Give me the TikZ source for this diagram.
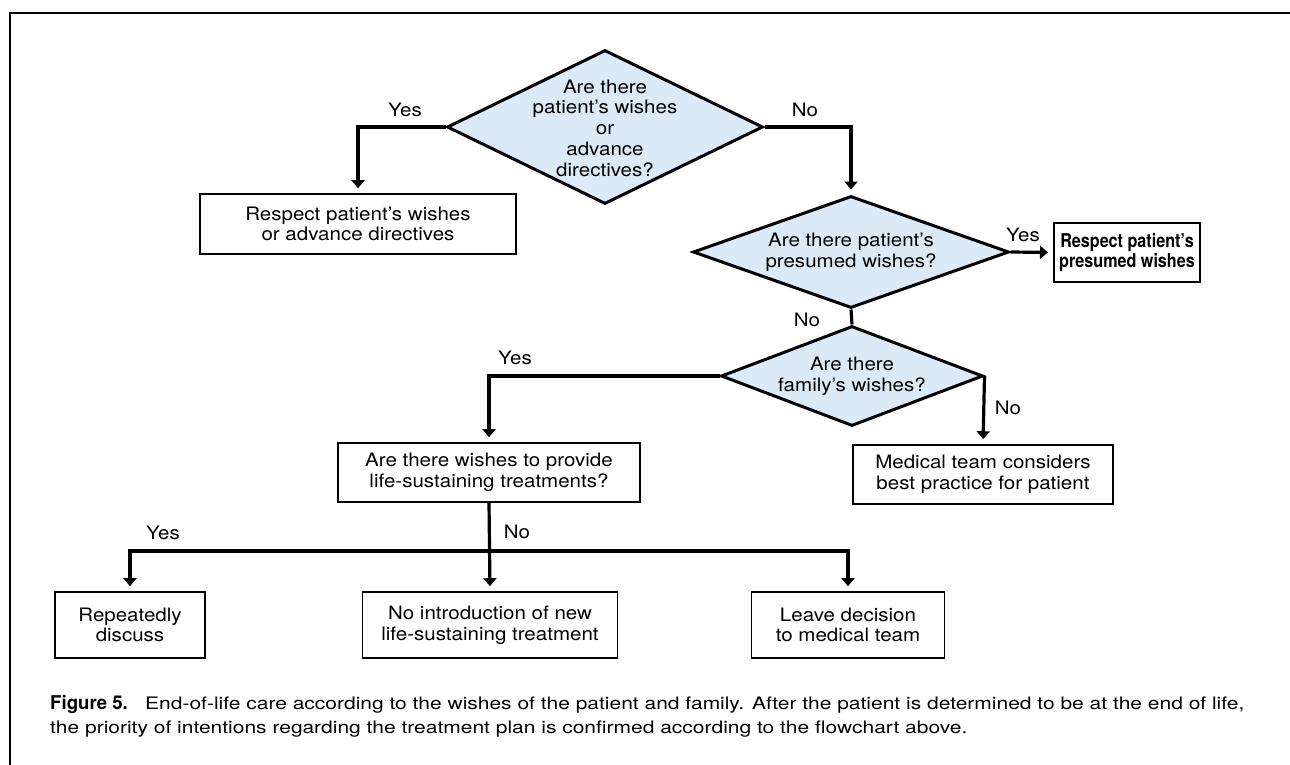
\documentclass[tikz,border=0pt]{standalone}
\usepackage{fontspec}
\setmainfont{TeX Gyre Heros}[FakeStretch=1.11]
\newfontfamily\capbold{TeX Gyre Heros}[FakeStretch=0.98]
\newfontfamily\boxbold{TeX Gyre Heros}[FakeStretch=0.85]
\newfontfamily\captext{TeX Gyre Heros}[FakeStretch=1.22]
\usetikzlibrary{shapes.geometric,arrows.meta}
\definecolor{decfill}{RGB}{220,234,247}
\begin{document}
\begin{tikzpicture}[x=1pt,y=-1pt,
  every node/.style={font=\fontsize{18.5}{20.7}\selectfont},
  decision/.style={diamond,draw,line width=3pt,fill=decfill,inner sep=0pt},
  dtext/.style={align=center,inner sep=0pt},
  stepbox/.style={rectangle,draw,line width=1.6pt,align=center,inner sep=0pt,minimum height=59pt},
  conn/.style={line width=3.2pt,-{Triangle[width=13pt,length=8pt]},shorten >=5pt},
  plain/.style={line width=3.2pt},
  lab/.style={inner sep=0pt}]
\useasboundingbox (0,0) rectangle (1290,765);

% page frame
\draw[line width=2pt] (10,765) -- (10,13.5) -- (1290,13.5);

% decisions
\node[decision,minimum width=316pt,minimum height=154pt] (d1) at (605,127) {};
\node[dtext] (d1t) at (605,128) {Are there\\patient’s wishes\\or\\advance\\directives?};
\node[decision,minimum width=316pt,minimum height=112pt] (d2) at (851,252) {};
\node[dtext] (d2t) at (851,252) {Are there patient’s\\presumed wishes?};
\node[decision,minimum width=262pt,minimum height=100pt] (d3) at (852,376) {};
\node[dtext] (d3t) at (852,376) {Are there\\family’s wishes?};

% outcome boxes
\node[stepbox,minimum width=316pt,minimum height=60pt] (b1) at (358,224) {Respect patient’s wishes\\or advance directives};
\node[stepbox,line width=2pt,minimum width=146pt,font=\fontsize{19}{20.7}\boxbold\bfseries] (b2) at (1127,252.5) {Respect patient’s\\presumed wishes};
\node[stepbox,minimum width=260pt] (b3) at (983,474.5) {Medical team considers\\best practice for patient};
\node[stepbox,minimum width=302pt] (b4) at (489,472.5) {Are there wishes to provide\\life-sustaining treatments?};
\node[stepbox,minimum width=150pt,minimum height=66pt] (b5) at (130,625) {Repeatedly\\discuss};
\node[stepbox,minimum width=255pt,minimum height=66pt] (b6) at (490,625) {No introduction of new\\life-sustaining treatment};
\node[stepbox,minimum width=193pt,minimum height=66pt] (b7) at (848,625) {Leave decision\\to medical team};

% connectors
\draw[conn] (d1.west) -| (b1.north);
\draw[conn] (d1.east) -| (d2.north);
\draw[conn] (d2.east) -- (b2.west);
\draw[plain] (d2.south) -- (d3.north);
\draw[conn] (d3.west) -| (b4.north);
\draw[conn] (d3.east) -- (b3.north);
\coordinate (split) at (490,551);
\draw[conn] (b4.south) -- (b6.north);
\draw[conn] (split) -| (b5.north);
\draw[conn] (split) -| (b7.north);

% branch labels
\node[lab] (y1) at (405,110) {Yes};
\node[lab] (n1) at (805,110) {No};
\node[lab] (y2) at (1023,235) {Yes};
\node[lab] (n2) at (807,320) {No};
\node[lab] (y3) at (515,358) {Yes};
\node[lab] (n3) at (1008,408) {No};
\node[lab] (y4) at (163,533) {Yes};
\node[lab] (n4) at (517,532) {No};

% caption
\node[lab,anchor=base west,font=\fontsize{19}{22}\capbold\bfseries] (fig) at (50,709) {Figure 5.};
\node[lab,anchor=base west,font=\fontsize{17.2}{21}\captext] (cap1) at (145,709) {End-of-life care according to the wishes of the patient and family. After the patient is determined to be at the end of life,};
\node[lab,anchor=base west,font=\fontsize{17.2}{21}\captext] (cap2) at (50,733) {the priority of intentions regarding the treatment plan is confirmed according to the flowchart above.};
\end{tikzpicture}
\end{document}
